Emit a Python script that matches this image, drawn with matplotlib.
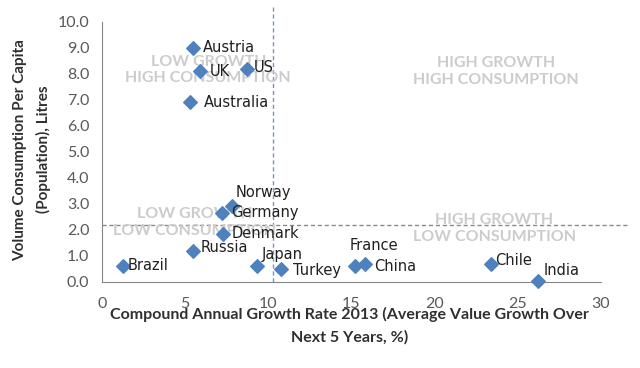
import matplotlib
matplotlib.use("Agg")
import matplotlib.pyplot as plt

countries = ["Austria", "UK", "US", "Australia", "Norway", "Germany", "Denmark",
             "Russia", "Brazil", "Japan", "Turkey", "France", "China", "Chile", "India"]
growth = [5.5, 5.9, 8.7, 5.3, 7.8, 7.2, 7.3, 5.5, 1.3, 9.3, 10.8, 15.2, 15.8, 23.4, 26.2]
volume = [9.0, 8.1, 8.2, 6.9, 2.9, 2.65, 1.85, 1.2, 0.62, 0.62, 0.5, 0.6, 0.68, 0.7, 0.05]
# label offsets in points (dx, dy)
offsets = [(7, 0), (7, 0), (5, 1), (10, 0), (3, 10), (7, 0), (6, 0),
           (5, 2), (3, 0), (4, 8), (8, -1), (-4, 15), (7, -2), (3, 2), (4, 7)]

growth_split = 10.3
volume_split = 2.2
quadrants = [("LOW GROWTH\nHIGH CONSUMPTION", 6.4, 8.15),
             ("HIGH GROWTH\nHIGH CONSUMPTION", 23.7, 8.1),
             ("LOW GROWTH\nLOW CONSUMPTION", 5.6, 2.27),
             ("HIGH GROWTH\nLOW CONSUMPTION", 23.6, 2.06)]

plt.rcParams['font.family'] = ['Lato', 'DejaVu Sans']

fig = plt.figure(figsize=(6.4, 3.68), dpi=100)
ax = fig.add_axes([0.159, 0.234, 0.832, 0.749])

blue = "#4F81BD"
ax.plot([growth_split, growth_split], [0, 10.6], ls=(0, (3, 2)), color="#7f95b8", lw=1, zorder=1)
ax.plot([0, 31.6], [volume_split, volume_split], ls=(0, (3, 2)), color="#8a8a8a", lw=1, zorder=1)

for text, x, y in quadrants:
    ax.text(x, y, text, ha="center", va="center", color="#cccccc",
            fontsize=11.5, fontweight="bold", linespacing=1.25, zorder=2)

ax.scatter(growth, volume, marker="D", s=48, color=blue, zorder=3, clip_on=False)
for name, x, y, (dx, dy) in zip(countries, growth, volume, offsets):
    ax.annotate(name, (x, y), xytext=(dx, dy), textcoords="offset points",
                ha="left", va="center", fontsize=10.5, color="#202020", zorder=4,
                family="DejaVu Sans")

ax.set_xlim(0, 32)
ax.set_ylim(0, 10.6)
ax.set_xticks(range(0, 31, 5))
ax.set_yticks([i for i in range(11)])
ax.set_yticklabels([f"{i:.1f}" for i in range(11)])
ax.tick_params(length=0, labelsize=11.5, colors="#595959")
ax.tick_params(axis="x", pad=11)
ax.tick_params(axis="y", pad=9)
for side in ["top", "right"]:
    ax.spines[side].set_visible(False)
ax.spines["bottom"].set_bounds(0, 30)
ax.spines["left"].set_bounds(0, 10)
for side in ["bottom", "left"]:
    ax.spines[side].set_color("#868686")

ax.set_xlabel("Compound Annual Growth Rate 2013 (Average Value Growth Over\nNext 5 Years, %)",
              fontsize=11.5, fontweight="bold", color="#303030", linespacing=1.65)
ax.xaxis.set_label_coords(0.465, -0.092)
ax.xaxis.label.set_va("top")
ax.set_ylabel("Volume Consumption Per Capita\n(Population), Litres",
              fontsize=11, fontweight="bold", color="#303030", linespacing=1.75)
ax.yaxis.set_label_coords(-0.095, 0.48)

fig.savefig("out.png", dpi=100)
